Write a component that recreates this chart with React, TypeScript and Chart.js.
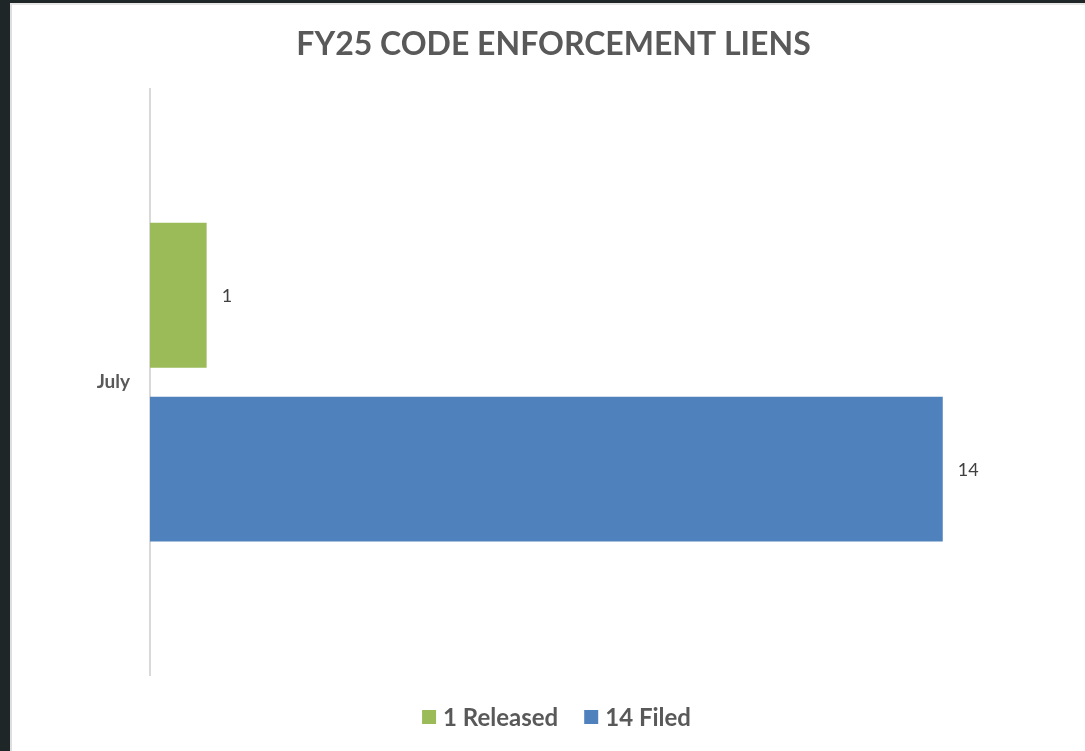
import React, { useEffect, useRef } from "react";
import { Chart, registerables } from "chart.js";

Chart.register(...registerables);

const categories = ["July"];
const seriesLabels = ["1 Released", "14 Filed"];
const releasedValues = [1];
const filedValues = [14];
const seriesColors = ["#9bbb59", "#4f81bd"];
const axisMin = 0;
const axisMax = 16;
const chartTitle = "FY25 CODE ENFORCEMENT LIENS";

const TEXT_GRAY = "#595959";

const valueLabelPlugin = {
  id: "valueLabels",
  afterDatasetsDraw(chart: any) {
    const { ctx } = chart;
    ctx.save();
    ctx.font = "18px Lato";
    ctx.fillStyle = "#404040";
    ctx.textAlign = "left";
    ctx.textBaseline = "middle";
    chart.data.datasets.forEach((ds: any, di: number) => {
      const meta = chart.getDatasetMeta(di);
      meta.data.forEach((el: any, i: number) => {
        const v = ds.data[i];
        ctx.fillText(String(v), el.x + 15, el.y + 1);
      });
    });
    ctx.restore();
  },
};

const customLegendPlugin = {
  id: "customLegend",
  afterDraw(chart: any) {
    const { ctx } = chart;
    const box = 14;
    const gap = 7;
    const itemGap = 26;
    ctx.save();
    ctx.font = "bold 24px Lato";
    ctx.textBaseline = "middle";
    ctx.textAlign = "left";
    const items = chart.data.datasets.map((ds: any) => ({
      text: ds.label,
      color: ds.backgroundColor,
      w: ctx.measureText(ds.label).width,
    }));
    let total = 0;
    items.forEach((it: any, i: number) => {
      total += box + gap + it.w + (i < items.length - 1 ? itemGap : 0);
    });
    const cx = chart.width / 2 + 9;
    const cy = 714;
    let x = cx - total / 2;
    items.forEach((it: any) => {
      ctx.fillStyle = it.color;
      ctx.fillRect(x, cy - box / 2, box, box);
      x += box + gap;
      ctx.fillStyle = TEXT_GRAY;
      ctx.fillText(it.text, x, cy + 1);
      x += it.w + itemGap;
    });
    ctx.restore();
  },
};

export default function App() {
  const canvasRef = useRef<HTMLCanvasElement | null>(null);

  useEffect(() => {
    document.body.style.margin = "0";
    const canvas = canvasRef.current;
    if (!canvas) return;
    const chart = new Chart(canvas, {
      type: "bar",
      data: {
        labels: categories,
        datasets: [
          {
            label: seriesLabels[0],
            data: releasedValues,
            backgroundColor: seriesColors[0],
            categoryPercentage: 0.594,
            barPercentage: 0.833,
          },
          {
            label: seriesLabels[1],
            data: filedValues,
            backgroundColor: seriesColors[1],
            categoryPercentage: 0.594,
            barPercentage: 0.833,
          },
        ],
      },
      options: {
        indexAxis: "y",
        responsive: false,
        animation: false,
        layout: { padding: { left: 41, right: 29, top: 0, bottom: 76 } },
        plugins: {
          legend: { display: false },
          tooltip: { enabled: false },
          title: {
            display: true,
            text: chartTitle,
            color: TEXT_GRAY,
            font: { family: "Lato", size: 32, weight: "bold", lineHeight: 1.2 },
            padding: { top: 22, bottom: 26 },
          },
        },
        scales: {
          x: {
            display: false,
            min: axisMin,
            max: axisMax,
          },
          y: {
            grid: { display: false, drawTicks: false },
            border: { display: true, color: "#d9d9d9", width: 2 },
            ticks: {
              color: TEXT_GRAY,
              font: { family: "Lato", size: 19, weight: "bold" },
              padding: 20,
            },
            afterFit: (scale: any) => {
              scale.width = 99;
            },
          },
        },
      },
      plugins: [valueLabelPlugin, customLegendPlugin],
    });
    return () => chart.destroy();
  }, []);

  return (
    <div
      style={{
        position: "absolute",
        left: 0,
        top: 0,
        width: 1085,
        height: 751,
        background: "#1f2628",
        overflow: "hidden",
      }}
    >
      <div
        style={{
          position: "absolute",
          left: 10,
          top: 3,
          width: 1075,
          height: 748,
          background: "#ffffff",
          borderLeft: "2px solid #dedede",
          borderTop: "2px solid #e6e6e6",
          boxSizing: "border-box",
        }}
      />
      <canvas
        ref={canvasRef}
        width={1075}
        height={748}
        style={{ position: "absolute", left: 10, top: 3, width: 1075, height: 748 }}
      />
    </div>
  );
}
